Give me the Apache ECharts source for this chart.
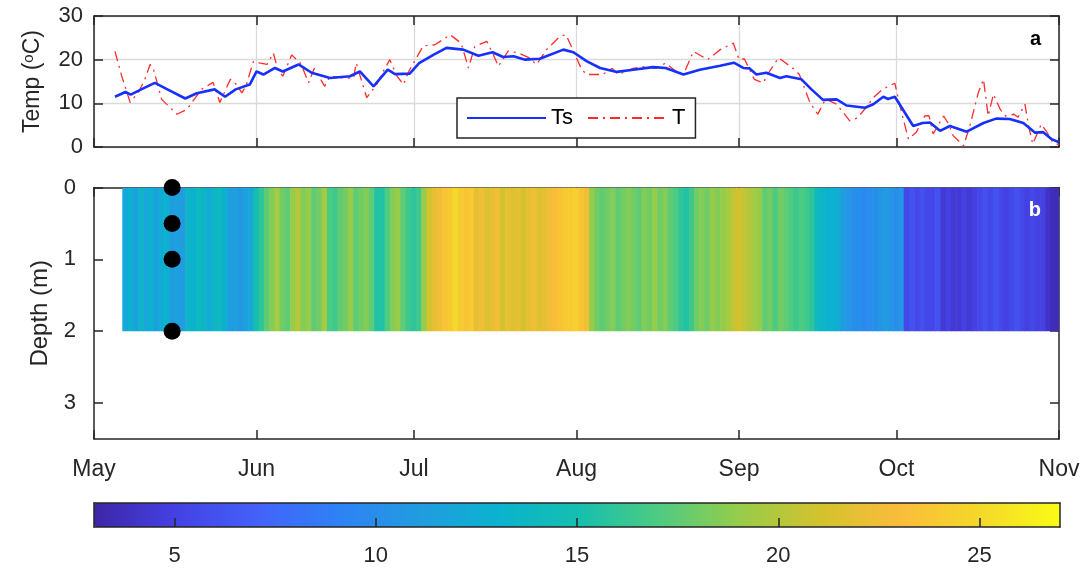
<!DOCTYPE html>
<html>
<head>
<meta charset="utf-8">
<script src="https://cdn.jsdelivr.net/npm/echarts@6/dist/echarts.min.js"></script>
<style>
    html, body {margin: 0; padding: 0; background: #fff;}
    #chart {width: 1090px; height: 570px;}
</style>
</head>
<body>
<div id="chart"></div>
<script>
    // days counted from 1 May
    var monthDays = [0, 31, 61, 92, 123, 153, 184];
    var monthNames = ['May', 'Jun', 'Jul', 'Aug', 'Sep', 'Oct', 'Nov'];

    // surface water temperature Ts  [day, degC]
    var tsData = [
        [4, 11.5], [6, 12.6], [7, 12.0], [9, 13.2], [11.6, 14.7], [14, 13.2], [17.4, 11.1], [19.6, 12.3],
        [23, 13.2], [25, 11.5], [27, 13.2], [29.7, 14.3], [31, 17.3], [32.3, 16.6], [34.5, 18.1], [36, 17.3],
        [39, 18.9], [41.5, 17.0], [45, 15.8], [48.8, 16.2], [50.7, 17.3], [53.3, 13.9], [56, 17.7], [57.4, 16.7],
        [60.2, 16.8], [62, 19.2], [64.7, 21.1], [67.2, 22.7], [70.4, 22.3], [73.3, 20.9], [76, 21.7], [78, 20.6],
        [80, 20.8], [82.2, 20.0], [85, 20.2], [89.5, 22.3], [91.4, 21.7], [94, 19.6], [96.5, 18.1], [99.7, 17.2],
        [102.8, 17.7], [106.6, 18.3], [109, 18.1], [112.4, 16.6], [115.5, 17.7], [119.4, 18.6], [122, 19.3],
        [123.8, 18.1], [125, 18.0], [126.3, 16.6], [128.2, 17.0], [130.8, 15.8], [132, 16.2], [134.9, 15.5],
        [136.8, 13.2], [139, 10.8], [141.6, 10.9], [143.5, 9.5], [147, 9.0], [148.6, 9.8], [150.5, 11.5],
        [151.4, 11.0], [152.7, 11.5], [153.6, 9.8], [156.2, 4.8], [158, 5.5], [159.4, 5.6], [161.3, 3.7],
        [163.2, 4.8], [166.4, 3.5], [169.6, 5.5], [172, 6.5], [174.6, 6.4], [177.2, 5.5], [179.4, 3.3],
        [181, 3.4], [182.6, 1.8], [184, 1.1]
    ];

    // air temperature T  [day, degC]
    var tData = [
        [4, 21.9], [5.3, 16.2], [6.9, 10.2], [8.5, 12.6], [9.7, 15.5], [10.7, 18.9], [11.3, 18], [12.9, 10.9],
        [14.2, 9.4], [15.8, 7.5], [17.7, 8.6], [20.5, 13.2], [22.7, 14.8], [24, 10.2], [26, 15.5], [27, 14.5],
        [28.2, 12.4], [29, 14.1], [30.4, 19.6], [31.7, 19.2], [33, 18.9], [34.2, 21.5], [35, 18], [36, 16.2],
        [37.7, 21.1], [39.5, 19], [40.9, 14.7], [42, 18], [44, 13.9], [45, 16.2], [47.5, 15.8], [49.5, 15.8],
        [50, 19.2], [52, 11.3], [54, 14.5], [55, 17], [56.4, 20], [57.8, 16.2], [59, 14.3], [60, 17.3],
        [62.8, 23.2], [65, 23.4], [67.9, 25.7], [70, 23.8], [71.4, 18.1], [72.6, 23], [74.9, 24.2], [76, 21.5],
        [77.1, 18.5], [79, 22], [81, 21.5], [83, 20.4], [84.4, 18.9], [86.3, 22.3], [88.8, 25.3], [90, 25.7],
        [91.4, 22], [93, 17.7], [94, 16.6], [97, 16.6], [98.8, 18], [100, 16.6], [102.8, 18], [105.3, 18.5],
        [107, 18], [109, 19.2], [111, 17.3], [112.4, 16.6], [114.3, 21.9], [117, 20], [119.4, 22.3], [121.9, 23.8],
        [123, 20], [124, 20.2], [125.9, 15.5], [127.6, 14.7], [128.8, 17.3], [130.5, 20.4], [131.5, 19.6],
        [133.6, 17.7], [134.5, 16.6], [136.5, 10.2], [138, 7.5], [139.5, 11], [141.6, 9.8], [144.1, 6.0],
        [145.5, 6.6], [147.2, 9], [148.6, 11.3], [150.3, 13.2], [152.7, 14.6], [153.6, 9.8], [154.3, 6.4],
        [155.3, 1.8], [156.8, 3.4], [158.4, 7.1], [159.2, 7.2], [160, 3], [162, 7.1], [163, 5.2], [163.8, 2.6],
        [165.8, 0.3], [167, 4.8], [168.6, 12.4], [169.6, 15.5], [170.5, 7.1], [171.5, 12.1], [172.8, 8.6],
        [173.8, 7.1], [175.4, 7.5], [176.2, 6.8], [177.5, 9.8], [178.2, 4.8], [179, 0.7], [180.6, 5.2],
        [181.6, 3.6], [182.8, 1.1], [184, 0.5]
    ];

    // profile temperature (0-2 m), one column per day starting at heatStart
    var heatStart = 5.4;
    var heatDepth = 2;
    var heatVals = [
        12, 13, 11.5, 13.5, 12, 13, 11.5, 12.5, 13,
        11, 11.5, 11,
        13.5, 13, 14, 13.5, 12.5, 13.5, 14, 13,
        11, 11.5, 10.8, 11.5, 12,
        15, 16,
        17.5, 18.5, 19.5, 18, 17.5, 19, 20, 18.5, 19, 17.5, 18, 19.5, 17, 16.5, 17.5,
        18, 19, 17.5, 18, 18.5, 17.5, 15.5, 15.5, 17, 18.5, 19, 17.5, 16.5, 16, 16.5,
        19, 21, 22, 22.5,
        23.5, 24, 25, 24, 23.5, 24,
        22, 22.5, 21.5, 22, 22.5, 21, 22, 21.5, 22, 21, 22, 22.5, 21.5, 22, 22.5, 23,
        23.5, 24, 24, 24.5, 23.5, 22.5,
        19, 18, 17.5, 18, 18.5, 17.5, 18, 18.5, 18, 17.5, 18.5, 18, 19, 18, 18.5, 17.5, 17,
        16, 15.5, 16.5,
        18, 18.5, 18, 19, 18.5, 19, 19.5,
        20.5, 21, 20.5, 20, 19.5, 19,
        17.5, 18, 17, 18, 17.5, 17, 16.5, 17, 16.5, 16,
        14, 13.5, 13, 13, 12.5,
        11, 10.5, 10, 10, 9.5, 10, 10, 10.5, 11, 10.5, 10, 10.5,
        5.5, 6, 5.5, 6, 5.5, 5.5, 6, 4.5, 5, 4.5, 4.5, 5, 4.5, 5, 5.5,
        6, 5.5, 6, 5.5, 5, 5.5, 6, 5.5, 5, 5.5, 5, 5, 4, 3.5, 3.5
    ];

    // sensor positions
    var sensorDay = 14.9;
    var sensorDepths = [0, 0.5, 1, 2];

    var depthTicks = [0, 1, 2, 3];
    var cbTicks = [5, 10, 15, 20, 25];
    var parula = ['#3e26a8', '#4440e2', '#4461fa', '#2e81f6', '#229be0', '#0bb2cf', '#14bfb0',
        '#4ccb82', '#96cc4a', '#d2c22e', '#fbbc3a', '#f4d82a', '#f9fb15'];

    var heatData = heatVals.map(function (v, i) { return [heatStart + i, v]; });
    var dotData = sensorDepths.map(function (d) { return [sensorDay, d]; });

    var ink = '#262626';
    var font = 'Liberation Sans';
    var axLine = {onZero: false, lineStyle: {color: ink, width: 1.5}};

    function monthLabel(v) {
        var i = monthDays.indexOf(Math.round(v));
        return i >= 0 ? monthNames[i] : '';
    }

    function xAx(grid, pos, showLabel) {
        return {
            type: 'value', gridIndex: grid, position: pos, min: 0, max: 184,
            axisLine: axLine,
            axisTick: {inside: true, length: 9, customValues: monthDays, lineStyle: {color: ink, width: 1.5}},
            axisLabel: {show: showLabel, customValues: monthDays, formatter: monthLabel, margin: 19,
                color: ink, fontSize: 23, fontFamily: font},
            splitLine: {show: grid === 0 && pos === 'bottom', lineStyle: {color: '#dadada', width: 1.3}}
        };
    }

    var option = {
        animation: false,
        backgroundColor: '#fff',
        textStyle: {fontFamily: font},
        title: [
            {text: 'a', right: 44, top: 24, textStyle: {fontSize: 20, fontWeight: 'bold', color: '#000', fontFamily: font}},
            {text: 'b', right: 44, top: 195, textStyle: {fontSize: 20, fontWeight: 'bold', color: '#fff', fontFamily: font}}
        ],
        grid: [
            {left: 94, right: 31, top: 16, height: 131},
            {left: 94, right: 31, top: 187.5, height: 251.5},
            {left: 94, right: 30, top: 503, height: 24}
        ],
        legend: {
            data: ['Ts', 'T'], left: 457, top: 98, orient: 'horizontal',
            backgroundColor: '#fff', borderColor: ink, borderWidth: 1.5,
            padding: [9, 10, 9, 9], itemGap: 14, itemWidth: 79, itemHeight: 14,
            itemStyle: {opacity: 0},
            textStyle: {fontSize: 22, color: '#000', fontFamily: font}
        },
        xAxis: [
            xAx(0, 'bottom', false),
            xAx(0, 'top', false),
            xAx(1, 'bottom', true),
            xAx(1, 'top', false),
            {
                type: 'value', gridIndex: 2, position: 'bottom', min: 3, max: 27, z: 10,
                axisLine: axLine,
                axisTick: {inside: true, length: 9, customValues: cbTicks, lineStyle: {color: ink, width: 1.5}},
                axisLabel: {customValues: cbTicks, margin: 18, color: ink, fontSize: 22, fontFamily: font},
                splitLine: {show: false}
            },
            {
                type: 'value', gridIndex: 2, position: 'top', min: 3, max: 27, z: 10,
                axisLine: axLine,
                axisTick: {show: false}, axisLabel: {show: false}, splitLine: {show: false}
            }
        ],
        yAxis: [
            {
                type: 'value', gridIndex: 0, position: 'left', min: 0, max: 30, interval: 10,
                name: '{n|Temp (}{s|o}{n|C)}', nameLocation: 'middle', nameGap: 50,
                nameTextStyle: {rich: {
                    n: {fontSize: 23, color: ink, fontFamily: font},
                    s: {fontSize: 15, color: ink, fontFamily: font, verticalAlign: 'top', padding: [0, 0, 8, 0]}
                }},
                axisLine: axLine,
                axisTick: {inside: true, length: 9, lineStyle: {color: ink, width: 1.5}},
                axisLabel: {margin: 11, color: ink, fontSize: 22, fontFamily: font},
                splitLine: {show: true, lineStyle: {color: '#dadada', width: 1.3}}
            },
            {
                type: 'value', gridIndex: 0, position: 'right', min: 0, max: 30, interval: 10,
                axisLine: axLine,
                axisTick: {inside: true, length: 9, lineStyle: {color: ink, width: 1.5}},
                axisLabel: {show: false}, splitLine: {show: false}
            },
            {
                type: 'value', gridIndex: 1, position: 'left', min: 0, max: 3.5, inverse: true,
                name: 'Depth (m)', nameLocation: 'middle', nameGap: 36,
                nameTextStyle: {fontSize: 24, color: ink, fontFamily: font},
                axisLine: axLine,
                axisTick: {inside: true, length: 9, customValues: depthTicks, lineStyle: {color: ink, width: 1.5}},
                axisLabel: {customValues: depthTicks, margin: 18, color: ink, fontSize: 22, fontFamily: font},
                splitLine: {show: false}
            },
            {
                type: 'value', gridIndex: 1, position: 'right', min: 0, max: 3.5, inverse: true,
                axisLine: axLine,
                axisTick: {inside: true, length: 9, customValues: depthTicks, lineStyle: {color: ink, width: 1.5}},
                axisLabel: {show: false}, splitLine: {show: false}
            },
            {
                type: 'value', gridIndex: 2, position: 'left', min: 0, max: 1, z: 10,
                axisLine: axLine,
                axisTick: {show: false}, axisLabel: {show: false}, splitLine: {show: false}
            },
            {
                type: 'value', gridIndex: 2, position: 'right', min: 0, max: 1, z: 10,
                axisLine: axLine,
                axisTick: {show: false}, axisLabel: {show: false}, splitLine: {show: false}
            }
        ],
        visualMap: {
            type: 'continuous', min: 3, max: 27, seriesIndex: 2, dimension: 1,
            orient: 'horizontal', left: 94, top: 503, itemHeight: 966, itemWidth: 24,
            calculable: false, hoverLink: false, text: null, showLabel: false, padding: 0,
            inRange: {color: parula}
        },
        series: [
            {
                name: 'Ts', type: 'line', xAxisIndex: 0, yAxisIndex: 0, data: tsData,
                symbol: 'none', lineStyle: {color: '#1530ff', width: 2.6}, itemStyle: {color: '#1530ff'}, z: 4
            },
            {
                name: 'T', type: 'line', xAxisIndex: 0, yAxisIndex: 0, data: tData,
                symbol: 'none', lineStyle: {color: '#ff2a2a', width: 1.3, type: [10, 5, 2, 5]},
                itemStyle: {color: '#ff2a2a'}, z: 3
            },
            {
                type: 'custom', xAxisIndex: 2, yAxisIndex: 2, data: heatData, clip: true,
                renderItem: function (params, api) {
                    var d = api.value(0);
                    var p0 = api.coord([d, 0]);
                    var p1 = api.coord([Math.min(d + 1, 184), heatDepth]);
                    return {
                        type: 'rect',
                        shape: {x: p0[0], y: p0[1], width: p1[0] - p0[0] + 0.6, height: p1[1] - p0[1]},
                        style: {fill: api.visual('color')}
                    };
                }
            },
            {
                type: 'scatter', xAxisIndex: 2, yAxisIndex: 2, data: dotData, clip: false,
                symbolSize: 17, itemStyle: {color: '#000', opacity: 1}, z: 5
            }
        ]
    };

    var chart = echarts.init(document.getElementById('chart'));
    chart.setOption(option);
</script>
</body>
</html>
